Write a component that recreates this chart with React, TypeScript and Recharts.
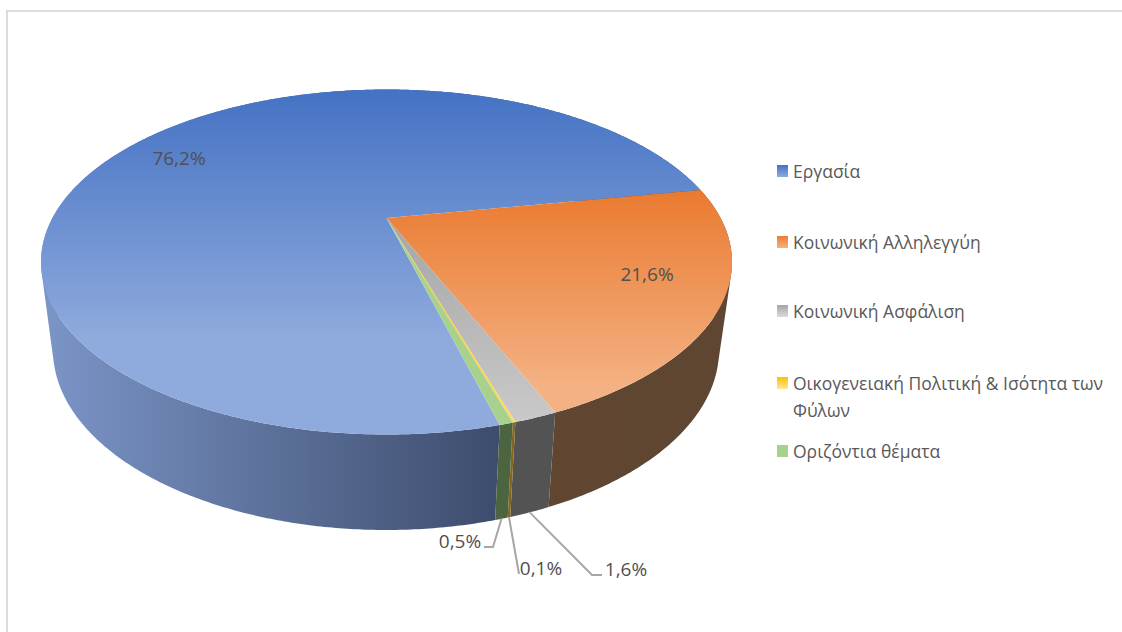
import { Legend, Pie, PieChart } from "recharts";

const categories = [
  "Εργασία",
  "Κοινωνική Αλληλεγγύη",
  "Κοινωνική Ασφάλιση",
  "Οικογενειακή Πολιτική & Ισότητα των Φύλων",
  "Οριζόντια θέματα",
];
const shares = [76.2, 21.6, 1.6, 0.1, 0.5];
const shareLabels = ["76,2%", "21,6%", "1,6%", "0,1%", "0,5%"];

const topStops = [
  ["#4472c4", "#8faadc"],
  ["#ea7a30", "#f4b183"],
  ["#a5a5a5", "#c9c9c9"],
  ["#ffc000", "#ffd966"],
  ["#a9d18e", "#a9d18e"],
];
const topStopEnds = [0.72, 0.88, 1, 1, 1];
const wallStops = [
  ["#7a94c6", "#3d4c6c"],
  ["#65472f", "#5f4632"],
  ["#575757", "#525252"],
  ["#86661f", "#86661f"],
  ["#4c6540", "#4c6540"],
];
const legendStops = [
  ["#4472c4", "#8faadc"],
  ["#ed7d31", "#f4b183"],
  ["#a5a5a5", "#dbdbdb"],
  ["#ffc000", "#ffe699"],
  ["#a9d18e", "#a9d18e"],
];

const topRows = categories.map((name, i) => ({ name, value: shares[i], fill: `url(#top${i})` }));
const wallRows = categories.map((name, i) => ({ name, value: shares[i], fill: `url(#wall${i})` }));

// the disc is seen in perspective, so its centre sits above the middle of the ellipse
const SKEW = -0.255;
const TOP_FACE = { cx: 386.5, cy: 262, rx: 345.5, ry: 172.5 };
const BOTTOM_FACE = { cx: 386, cy: 350, rx: 333, ry: 180 };
const START_ANGLE = 284.8;

type Face = typeof TOP_FACE;

function project(angle: number, face: Face, radius = 1) {
  const rad = (angle * Math.PI) / 180;
  const u = radius * Math.cos(rad);
  const v = -radius * Math.sin(rad);
  const d = 1 + SKEW * v;
  return {
    x: face.cx + (face.rx * u * Math.sqrt(1 - SKEW * SKEW)) / d,
    y: face.cy + (face.ry * (v + SKEW)) / d,
  };
}

function sweep(startAngle: number, endAngle: number) {
  const n = Math.max(2, Math.ceil(Math.abs(endAngle - startAngle) * 2));
  const out: number[] = [];
  for (let i = 0; i <= n; i++) out.push(startAngle + ((endAngle - startAngle) * i) / n);
  return out;
}

function TopSector(props: any) {
  const pts = sweep(props.startAngle, props.endAngle).map((a) => project(a, TOP_FACE));
  const apex = project(0, TOP_FACE, 0);
  const d = `M${apex.x},${apex.y} ` + pts.map((p) => `L${p.x},${p.y}`).join(" ") + " Z";
  return <path d={d} fill={props.fill} />;
}

function WallSector(props: any) {
  const angles = sweep(props.startAngle, props.endAngle);
  let d = "";
  for (let i = 0; i < angles.length - 1; i++) {
    let quad = [
      project(angles[i], TOP_FACE),
      project(angles[i + 1], TOP_FACE),
      project(angles[i + 1], BOTTOM_FACE),
      project(angles[i], BOTTOM_FACE),
    ];
    // same winding everywhere or overlapping quads cancel out
    let area = 0;
    quad.forEach((p, j) => {
      const q = quad[(j + 1) % 4];
      area += p.x * q.y - q.x * p.y;
    });
    if (area < 0) quad = quad.reverse();
    d += "M" + quad.map((p) => `${p.x},${p.y}`).join("L") + "Z ";
  }
  return <path d={d} fill={props.fill} />;
}

const labelCentres = [
  { x: 179, y: 158 },
  { x: 647, y: 274 },
  { x: 626, y: 569 },
  { x: 541, y: 568 },
  { x: 460, y: 541 },
];
const leaderElbows = [
  null,
  null,
  [{ x: 592, y: 575 }, { x: 602, y: 575 }],
  [{ x: 519, y: 574 }],
  [{ x: 493, y: 547 }, { x: 484, y: 547 }],
];

function renderLabel(props: any) {
  const i = props.index;
  const c = labelCentres[i];
  const elbow = leaderElbows[i];
  let line = "";
  if (elbow) {
    const from = project(props.midAngle, BOTTOM_FACE);
    line = [from, ...elbow].map((p) => `${p.x},${p.y}`).join(" ");
  }
  return (
    <g key={i}>
      {elbow && <polyline points={line} fill="none" stroke="#a6a6a6" strokeWidth={2} />}
      <text x={c.x} y={c.y} textAnchor="middle" dominantBaseline="central" fontFamily="'Open Sans'" fontSize={19} fill="#505050">
        {shareLabels[i]}
      </text>
    </g>
  );
}

const legendRowTops = [158, 229, 298, 370, 438];

function LegendBlock(props: any) {
  const rows = (props.payload || []).filter((p: any) => p.type !== "none");
  return (
    <div style={{ position: "relative", width: 340, height: 320, fontFamily: "'Open Sans'", fontSize: 17.5, lineHeight: "27px", color: "#595959" }}>
      {rows.map((row: any, i: number) => (
        <div key={row.value} style={{ position: "absolute", left: 0, top: legendRowTops[i] - 150, width: 340 }}>
          <div
            style={{
              position: "absolute",
              left: 0,
              top: 7,
              width: 11,
              height: 12,
              background: `linear-gradient(${legendStops[i][0]}, ${legendStops[i][1]})`,
            }}
          />
          <div style={{ marginLeft: 16 }}>{row.value}</div>
        </div>
      ))}
    </div>
  );
}

export default function App() {
  return (
    <div style={{ position: "absolute", left: 0, top: 0, width: 1122, height: 632, background: "#fff", overflow: "hidden" }}>
      <div style={{ position: "absolute", left: 6, top: 10, width: 1130, height: 640, borderTop: "2px solid #dcdcdc", borderLeft: "2px solid #dcdcdc" }} />
      <PieChart width={1122} height={632} margin={{ top: 0, right: 0, bottom: 0, left: 0 }} style={{ position: "absolute", left: 0, top: 0 }}>
        <defs>
          {topStops.map((s, i) => (
            <linearGradient key={i} id={`top${i}`} x1="0" y1="0" x2="0" y2="1">
              <stop offset="0" stopColor={s[0]} />
              <stop offset={topStopEnds[i]} stopColor={s[1]} />
            </linearGradient>
          ))}
          {wallStops.map((s, i) => (
            <linearGradient key={i} id={`wall${i}`} gradientUnits="userSpaceOnUse" x1="50" y1="0" x2={i === 0 ? 500 : 720} y2="0">
              <stop offset="0" stopColor={s[0]} />
              <stop offset="1" stopColor={s[1]} />
            </linearGradient>
          ))}
        </defs>
        <Pie
          data={wallRows}
          dataKey="value"
          nameKey="name"
          cx={386}
          cy={262}
          outerRadius={170}
          startAngle={START_ANGLE}
          endAngle={START_ANGLE - 360}
          stroke="none"
          legendType="none"
          shape={WallSector}
          isAnimationActive={false}
        />
        <Pie
          data={topRows}
          dataKey="value"
          nameKey="name"
          cx={386}
          cy={262}
          outerRadius={170}
          startAngle={START_ANGLE}
          endAngle={START_ANGLE - 360}
          stroke="none"
          shape={TopSector}
          label={renderLabel}
          labelLine={false}
          isAnimationActive={false}
        />
        <Legend content={LegendBlock} layout="vertical" wrapperStyle={{ position: "absolute", left: 777, top: 150, width: 340, height: 320 }} />
      </PieChart>
    </div>
  );
}
